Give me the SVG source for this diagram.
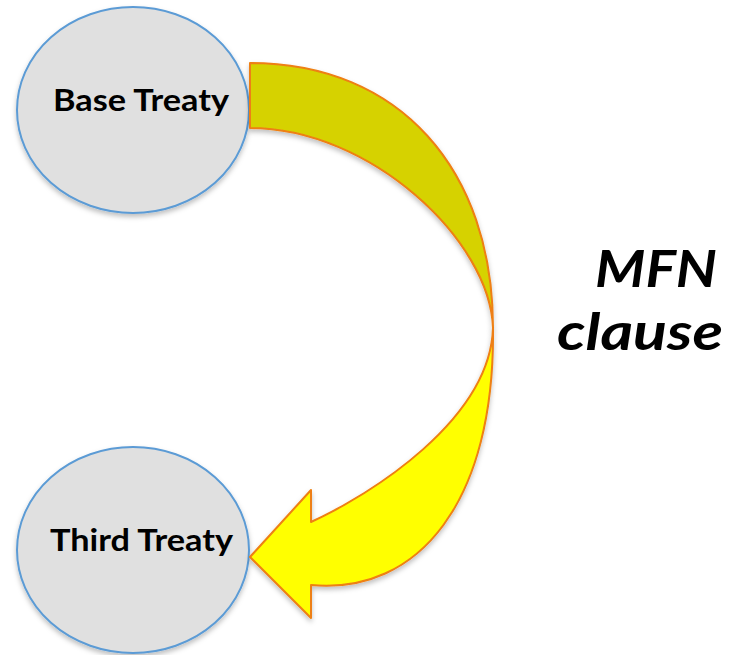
<svg xmlns="http://www.w3.org/2000/svg" width="729" height="655" viewBox="0 0 729 655">
<style>
.node{fill:#E0E0E0;stroke:#5B9BD5;stroke-width:2}
.lbl{font-family:Lato,"Open Sans",sans-serif;font-weight:bold;font-size:31px;fill:#000}
.big{font-family:Lato,"Open Sans",sans-serif;font-weight:bold;font-style:italic;font-size:52px;fill:#000;text-anchor:end}
.arr{stroke:#EE7F12;stroke-width:2;stroke-linejoin:round}
</style>
<defs>
<filter id="sh" x="-10%" y="-10%" width="120%" height="125%">
<feDropShadow dx="0" dy="3" stdDeviation="2.5" flood-color="#000" flood-opacity="0.25"/>
</filter>
</defs>
<rect width="729" height="655" fill="#fff"/>
<g id="base-treaty">
<ellipse class="node" cx="133" cy="110" rx="116" ry="103" filter="url(#sh)"/>
<text class="lbl" x="53" y="111" textLength="176" lengthAdjust="spacingAndGlyphs">Base Treaty</text>
</g>
<g id="third-treaty">
<ellipse class="node" cx="133" cy="550" rx="116" ry="103" filter="url(#sh)"/>
<text class="lbl" x="50" y="551" textLength="183" lengthAdjust="spacingAndGlyphs">Third Treaty</text>
</g>
<g id="connectors">
<path class="arr" fill="#D6D200" d="M250,63 C400,63 493,170 493,328 C490,240 370,128 250,128 Z" filter="url(#sh)"/>
<path class="arr" fill="#FFFF00" d="M493,328 C495,500 420,595 311,585 L311,618 L250,557 L311,490 L311,522 C370,495 490,420 493,328 Z" filter="url(#sh)"/>
</g>
<g id="mfn-label">
<text class="big" x="717" y="287" textLength="122" lengthAdjust="spacingAndGlyphs">MFN</text>
<text class="big" x="723" y="350" textLength="166" lengthAdjust="spacingAndGlyphs">clause</text>
</g>
</svg>
